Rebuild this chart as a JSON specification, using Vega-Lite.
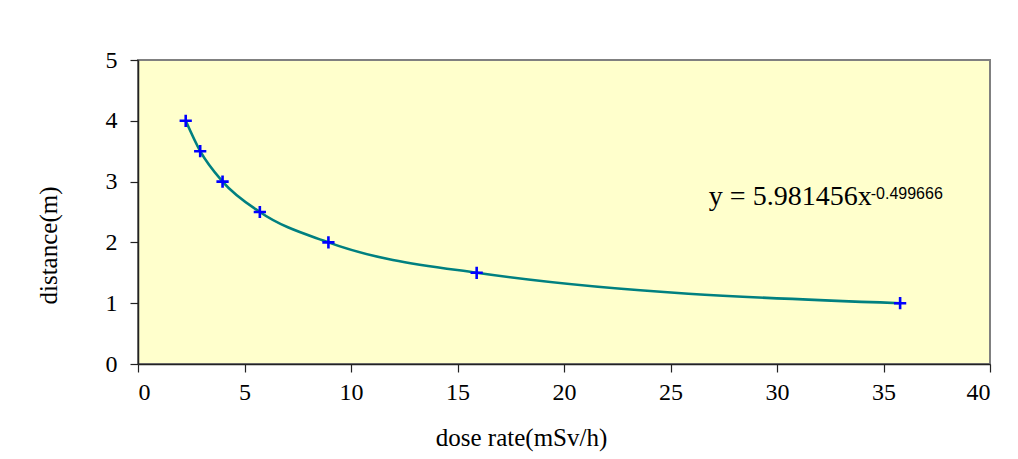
{
  "$schema": "https://vega.github.io/schema/vega-lite/v6.json",
  "width": 852,
  "height": 304,
  "autosize": "none",
  "padding": {"left": 138, "top": 60, "right": 28, "bottom": 95},
  "background": "white",
  "config": {
    "view": {"fill": "#FFFFCC", "stroke": "#808080", "strokeWidth": 2},
    "font": "Liberation Serif"
  },
  "data": {
    "values": [
      {"dose": 2.24, "dist": 4},
      {"dose": 2.92, "dist": 3.5},
      {"dose": 3.97, "dist": 3},
      {"dose": 5.72, "dist": 2.5},
      {"dose": 8.94, "dist": 2},
      {"dose": 15.9, "dist": 1.5},
      {"dose": 35.78, "dist": 1}
    ]
  },
  "layer": [
    {
      "mark": {"type": "line", "interpolate": "monotone", "color": "#008080", "strokeWidth": 2.6},
      "encoding": {
        "x": {
          "field": "dose", "type": "quantitative",
          "scale": {"domain": [0, 40], "nice": false},
          "axis": {
            "values": [0,5,10,15,20,25,30,35,40], "format": "d",
            "grid": false, "domainColor": "#222222", "domainWidth": 1.5, "tickColor": "#222222", "tickWidth": 1.2, "tickSize": 8,
            "labelFont": "Liberation Serif", "labelFontSize": 24, "labelColor": "#000000", "labelPadding": 8,
            "title": "dose rate(mSv/h)", "titleFont": "Liberation Serif", "titleFontSize": 25, "titleFontWeight": "normal", "titleColor": "#000000",
            "titleX": 383, "titleY": 81, "titleBaseline": "alphabetic", "titleAlign": "center"
          }
        },
        "y": {
          "field": "dist", "type": "quantitative",
          "scale": {"domain": [0, 5], "nice": false},
          "axis": {
            "values": [0,1,2,3,4,5], "format": "d",
            "grid": false, "domainColor": "#222222", "domainWidth": 1.5, "tickColor": "#222222", "tickWidth": 1.2, "tickSize": 8,
            "labelFont": "Liberation Serif", "labelFontSize": 24, "labelColor": "#000000", "labelPadding": 13,
            "title": "distance(m)", "titleFont": "Liberation Serif", "titleFontSize": 25, "titleFontWeight": "normal", "titleColor": "#000000",
            "titleX": -90, "titleY": 185, "titleBaseline": "middle", "titleAlign": "center", "titleAngle": -90
          }
        }
      }
    },
    {
      "mark": {"type": "point", "shape": "M-1,0L1,0M0,-1L0,1", "size": 150, "stroke": "#0000FF", "strokeWidth": 2.6, "filled": false, "opacity": 1},
      "encoding": {
        "x": {"field": "dose", "type": "quantitative"},
        "y": {"field": "dist", "type": "quantitative"}
      }
    },
    {
      "data": {"values": [{"label": "y = 5.981456x"}]},
      "mark": {"type": "text", "align": "left", "baseline": "alphabetic", "fontSize": 28, "font": "Liberation Serif", "color": "#000000"},
      "encoding": {"text": {"field": "label"}, "x": {"datum": 26.8}, "y": {"datum": 2.615}}
    },
    {
      "data": {"values": [{"label": "-0.499666"}]},
      "mark": {"type": "text", "align": "left", "baseline": "alphabetic", "fontSize": 16, "font": "Liberation Sans", "color": "#000000"},
      "encoding": {"text": {"field": "label"}, "x": {"datum": 34.4}, "y": {"datum": 2.714}}
    }
  ]
}
